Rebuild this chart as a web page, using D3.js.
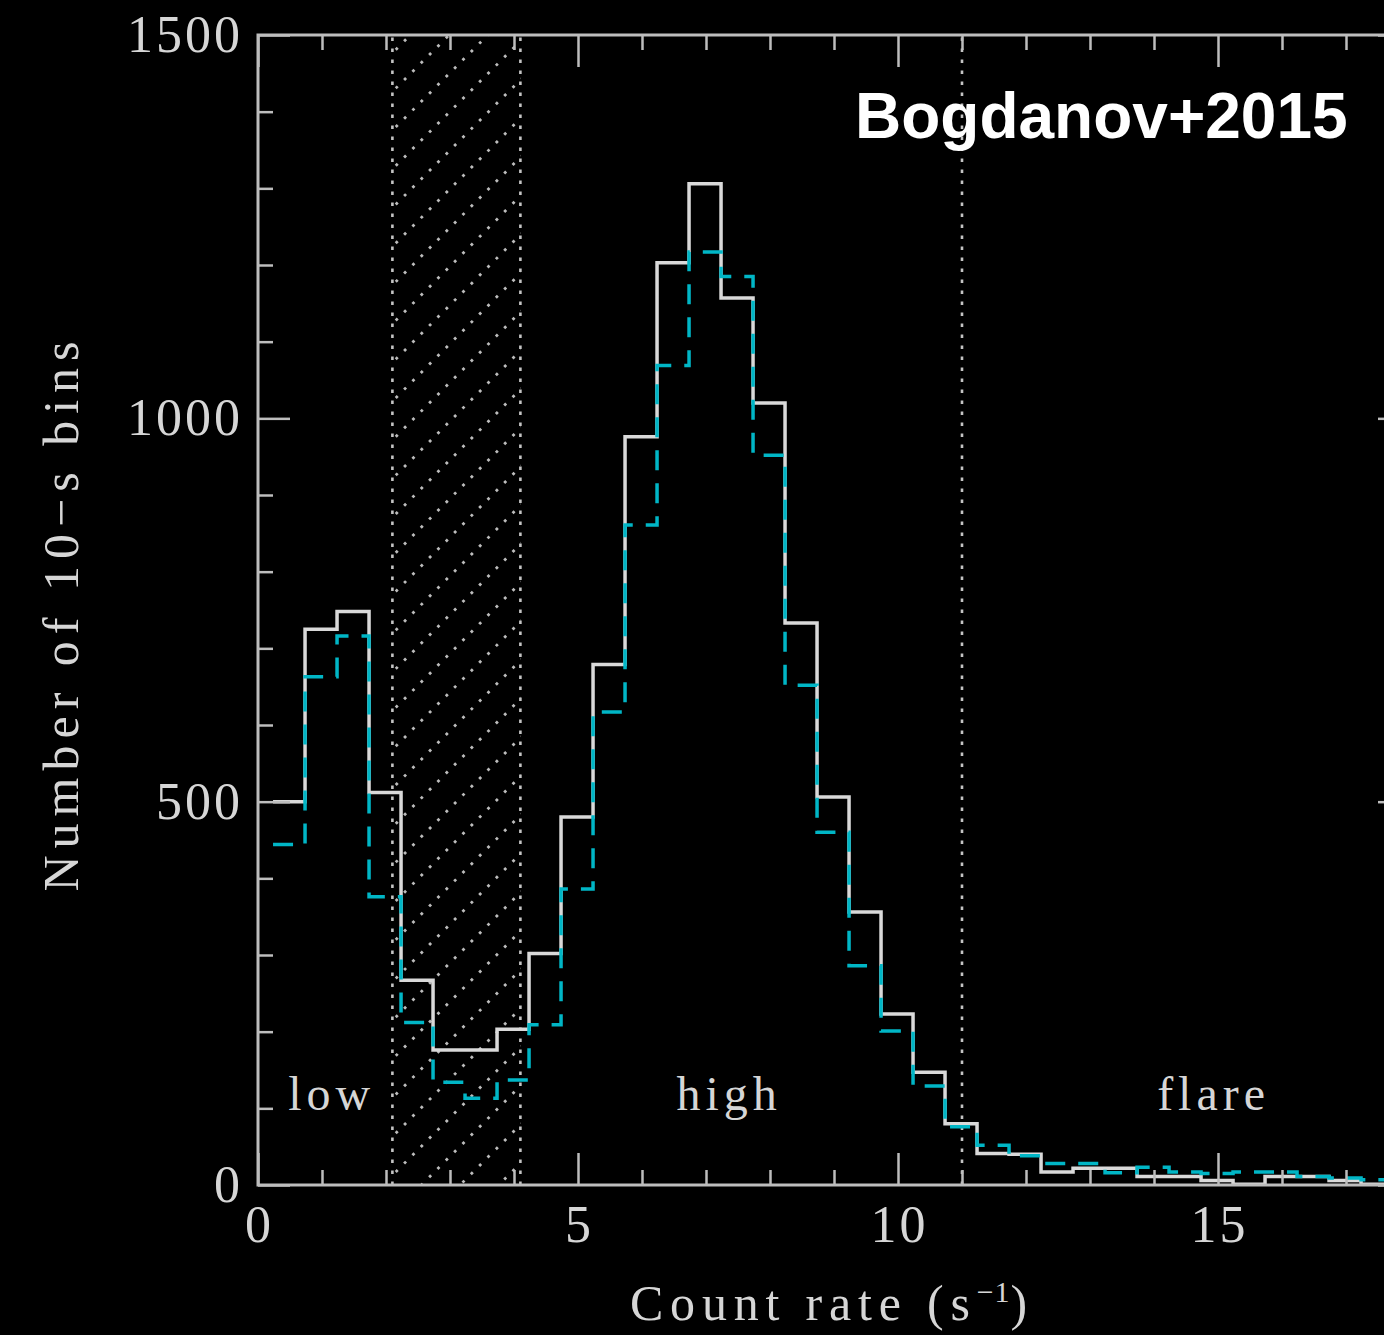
<!DOCTYPE html>
<html>
<head>
<meta charset="utf-8">
<script src="https://cdn.jsdelivr.net/npm/d3@7/dist/d3.min.js"></script>
<style>
  html, body { margin: 0; padding: 0; background: #000; }
  svg { display: block; }
  .serif { font-family: "Liberation Serif", "DejaVu Serif", serif; fill: #d6d6d6; }
</style>
</head>
<body>
<svg id="chart" width="1384" height="1335"></svg>
<script>
// Histogram of 10-s count-rate bins: full set (solid) and subset (dashed)
const binStart = 0.235;   // lower edge of the first bin (counts/s)
const binWidth = 0.5;     // bin width (counts/s)

const solidCounts = [
  500, 725, 748, 512, 267, 176, 176, 203, 302, 480,
  679, 976, 1203, 1306, 1157, 1020, 733, 506, 356, 223,
  147, 80, 41, 40, 17, 22, 22, 11, 11, 6,
  1, 11, 11, 6, 1, 1
];
const dashedCounts = [
  444, 663, 716, 376, 212, 134, 113, 137, 209, 386,
  617, 861, 1069, 1217, 1185, 952, 652, 460, 286, 201,
  129, 76, 52, 38, 28, 28, 16, 23, 17, 15,
  17, 17, 11, 9, 7, 6
];

// Excluded (hatched) range and flare threshold
const gapRange = [2.1, 4.1];
const flareCut = 11;

// Mode labels
const modeLabels = [
  { text: "low",   x: 1.12, y: 98 },
  { text: "high",  x: 7.33, y: 98 },
  { text: "flare", x: 14.9, y: 98 }
];

const xMajor = [0, 5, 10, 15];
const yMajor = [0, 500, 1000, 1500];
const xDomain = [0, 18];
const yDomain = [0, 1500];

const svg = d3.select("#chart");
const W = 1384, H = 1335;
svg.append("rect").attr("width", W).attr("height", H).attr("fill", "#000");

const plot = { left: 258, top: 35, right: 1410, bottom: 1185 };
const x = d3.scaleLinear().domain(xDomain).range([plot.left, plot.right]);
const y = d3.scaleLinear().domain(yDomain).range([plot.bottom, plot.top]);

const axisColor = "#bdbdbd";

const defs = svg.append("defs");
defs.append("clipPath").attr("id", "plotClip")
  .append("rect")
  .attr("x", plot.left).attr("y", plot.top)
  .attr("width", plot.right - plot.left).attr("height", plot.bottom - plot.top);
defs.append("clipPath").attr("id", "gapClip")
  .append("rect")
  .attr("x", x(gapRange[0])).attr("y", y(yDomain[1]))
  .attr("width", x(gapRange[1]) - x(gapRange[0]))
  .attr("height", y(yDomain[0]) - y(yDomain[1]));

// Hatched excluded band: dotted diagonal lines
const hatch = svg.append("g").attr("clip-path", "url(#gapClip)");
const gx0 = x(gapRange[0]), gx1 = x(gapRange[1]);
const hy0 = y(yDomain[1]), hy1 = y(yDomain[0]);
const spacing = 38.7;
const phase = 755;
const cMin = gx0 + hy0 - spacing, cMax = gx1 + hy1 + spacing;
const offsets = d3.range(Math.floor((cMin - phase) / spacing), Math.ceil((cMax - phase) / spacing) + 1)
  .map(k => phase + k * spacing);
hatch.selectAll("line.h").data(offsets).join("line")
  .attr("x1", c => gx0 - 5).attr("y1", c => c - (gx0 - 5))
  .attr("x2", c => gx1 + 5).attr("y2", c => c - (gx1 + 5))
  .attr("stroke", "#bcbcbc").attr("stroke-width", 2.8)
  .attr("stroke-dasharray", "2.8 9");

// Dotted verticals: band edges and flare threshold
const dottedX = [gapRange[0], gapRange[1], flareCut];
svg.append("g").selectAll("line").data(dottedX).join("line")
  .attr("x1", d => x(d)).attr("x2", d => x(d))
  .attr("y1", y(yDomain[0])).attr("y2", y(yDomain[1]))
  .attr("stroke", "#c4c4c4").attr("stroke-width", 2.6)
  .attr("stroke-dasharray", "3.5 7.5");

// Step outlines of the two histograms
function stepPoints(counts) {
  const pts = counts.map((v, i) => [binStart + i * binWidth, v]);
  pts.push([binStart + counts.length * binWidth, counts[counts.length - 1]]);
  return pts;
}
const step = d3.line().x(d => x(d[0])).y(d => y(d[1])).curve(d3.curveStepAfter);

const hist = svg.append("g").attr("clip-path", "url(#plotClip)");
hist.append("path")
  .attr("d", step(stepPoints(solidCounts)))
  .attr("fill", "none").attr("stroke", "#d9d9d9").attr("stroke-width", 3.5)
  .attr("stroke-linejoin", "miter");
hist.append("path")
  .attr("d", step(stepPoints(dashedCounts)))
  .attr("fill", "none").attr("stroke", "#00b6c6").attr("stroke-width", 3.5)
  .attr("stroke-dasharray", "20 13");

// Frame with inward ticks on all four sides
const xMinor = d3.range(1, 19).filter(v => !xMajor.includes(v));
const yMinor = d3.range(100, 1500, 100).filter(v => !yMajor.includes(v));

function styleAxis(g) {
  g.select(".domain").remove();
  g.selectAll(".tick line").attr("stroke", axisColor).attr("stroke-width", 2.5);
}

svg.append("g").attr("transform", `translate(0,${plot.bottom})`)
  .call(d3.axisBottom(x).tickValues(xMajor).tickSize(-32).tickFormat(""))
  .call(styleAxis);
svg.append("g").attr("transform", `translate(0,${plot.bottom})`)
  .call(d3.axisBottom(x).tickValues(xMinor).tickSize(-15).tickFormat(""))
  .call(styleAxis);
svg.append("g").attr("transform", `translate(0,${plot.top})`)
  .call(d3.axisTop(x).tickValues(xMajor).tickSize(-32).tickFormat(""))
  .call(styleAxis);
svg.append("g").attr("transform", `translate(0,${plot.top})`)
  .call(d3.axisTop(x).tickValues(xMinor).tickSize(-15).tickFormat(""))
  .call(styleAxis);
svg.append("g").attr("transform", `translate(${plot.left},0)`)
  .call(d3.axisLeft(y).tickValues(yMajor).tickSize(-32).tickFormat(""))
  .call(styleAxis);
svg.append("g").attr("transform", `translate(${plot.left},0)`)
  .call(d3.axisLeft(y).tickValues(yMinor).tickSize(-15).tickFormat(""))
  .call(styleAxis);
svg.append("g").attr("transform", `translate(${plot.right},0)`)
  .call(d3.axisRight(y).tickValues(yMajor).tickSize(-32).tickFormat(""))
  .call(styleAxis);
svg.append("g").attr("transform", `translate(${plot.right},0)`)
  .call(d3.axisRight(y).tickValues(yMinor).tickSize(-15).tickFormat(""))
  .call(styleAxis);

svg.append("rect")
  .attr("x", plot.left).attr("y", plot.top)
  .attr("width", plot.right - plot.left).attr("height", plot.bottom - plot.top)
  .attr("fill", "none").attr("stroke", axisColor).attr("stroke-width", 3);

// Tick labels
svg.append("g").selectAll("text").data(xMajor).join("text")
  .attr("class", "serif")
  .attr("x", d => x(d) + 1.5).attr("y", 1242)
  .attr("text-anchor", "middle")
  .attr("font-size", 52).attr("letter-spacing", 3)
  .text(d => d);
svg.append("g").selectAll("text").data(yMajor).join("text")
  .attr("class", "serif")
  .attr("x", 243).attr("y", d => y(d) + 17)
  .attr("text-anchor", "end")
  .attr("font-size", 52).attr("letter-spacing", 3)
  .text(d => d);

// Axis titles
const xTitle = svg.append("text").attr("class", "serif")
  .attr("x", (plot.left + plot.right) / 2 - 2).attr("y", 1320)
  .attr("text-anchor", "middle").attr("font-size", 50).attr("letter-spacing", 6.8);
xTitle.append("tspan").text("Count rate (s");
xTitle.append("tspan").attr("font-size", 30).attr("dy", -18).attr("letter-spacing", 1).text("−1");
xTitle.append("tspan").attr("dy", 18).text(")");

svg.append("text").attr("class", "serif")
  .attr("transform", `translate(78,${(plot.top + plot.bottom) / 2 + 3}) rotate(-90)`)
  .attr("text-anchor", "middle").attr("font-size", 50).attr("letter-spacing", 7)
  .text("Number of 10−s bins");

// Mode labels inside the plot
svg.append("g").selectAll("text").data(modeLabels).join("text")
  .attr("class", "serif")
  .attr("x", d => x(d.x) + 2).attr("y", d => y(d.y))
  .attr("text-anchor", "middle").attr("font-size", 48).attr("letter-spacing", 5)
  .text(d => d.text);

// Reference tag
svg.append("text")
  .attr("x", 855).attr("y", 138)
  .attr("font-family", "'Liberation Sans', Arial, Helvetica, sans-serif")
  .attr("font-weight", "bold").attr("font-size", 64)
  .attr("fill", "#ffffff")
  .text("Bogdanov+2015");
</script>
</body>
</html>
